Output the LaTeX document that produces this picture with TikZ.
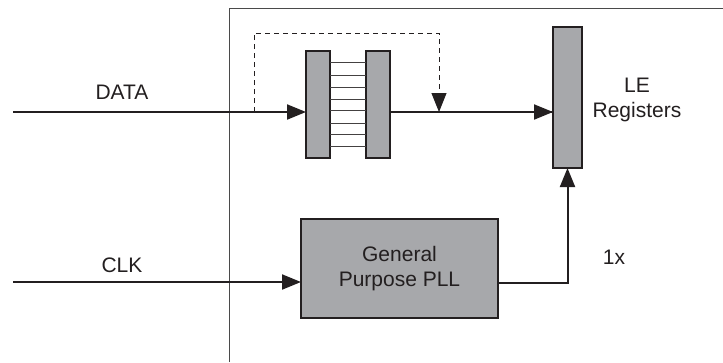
\documentclass[tikz,border=0pt]{standalone}
\usepackage{fontspec}
\setmainfont{Liberation Sans}
\usetikzlibrary{arrows.meta}
\definecolor{ink}{HTML}{231F20}
\definecolor{blockfill}{HTML}{A7A8AB}
\definecolor{frame}{HTML}{4A4A4A}
\begin{document}
\begin{tikzpicture}[x=1pt,y=-1pt,
  every node/.style={inner sep=0pt, outer sep=0pt},
  block/.style={draw=ink, fill=blockfill, line width=2pt, rectangle},
  label/.style={text=ink, font=\fontsize{21}{25}\selectfont, align=center},
  wire/.style={draw=ink, line width=2pt},
  arr/.style={wire, -{Triangle[length=19pt,width=15pt]}},
  rung/.style={draw=ink!85, line width=1pt},
  fb/.style={draw=ink, line width=1pt, dash pattern=on 5pt off 4pt},
]
\useasboundingbox (0,0) rectangle (723,362);

% device boundary
\draw[frame, line width=1pt] (229,362) -- (229,8) -- (723,8);

% FIFO, LE registers and PLL
\node[block, minimum width=24pt, minimum height=107pt] (fifoL) at (318,104.5) {};
\node[block, minimum width=24pt, minimum height=107pt] (fifoR) at (378,104.5) {};
\node[block, minimum width=29pt, minimum height=141pt] (le) at (567.5,97.5) {};
\node[block, minimum width=197pt, minimum height=99pt] (pll) at (399.5,268.5) {};
\node[label] (plltext) at (pll.center) {General\\Purpose PLL};

% FIFO cells
\foreach \yy in {62,75,87,99,110,123,134,146}
  \draw[rung] (fifoL.east |- 0,\yy) -- (fifoR.west |- 0,\yy);

% connection points
\coordinate (din) at (13,112);
\coordinate (tap) at (254,112);
\coordinate (merge) at (439,112);
\coordinate (clkin) at (13,282);
\coordinate (corner) at (le.south |- 0,283);

% data path
\draw[arr] (din) -- (fifoL.west |- din);
\draw[wire] (fifoR.east |- din) -- (le.west |- din);
\draw[arr] (merge) -- (le.west |- din);
\draw[fb, -{Triangle[length=19pt,width=15pt]}] (tap) -- (254,33) -- (merge |- 0,33) -- (merge);

% clock path
\draw[arr] (clkin) -- (pll.west |- clkin);
\draw[arr] (pll.east |- corner) -- (corner) -- (le.south);

% labels
\node[label] (datalbl) at (122,92) {DATA};
\node[label] (clklbl) at (122,265) {CLK};
\node[label] (lelbl) at (637,100) {LE\\Registers};
\node[label] (ratio) at (614,257) {1x};
\end{tikzpicture}
\end{document}
